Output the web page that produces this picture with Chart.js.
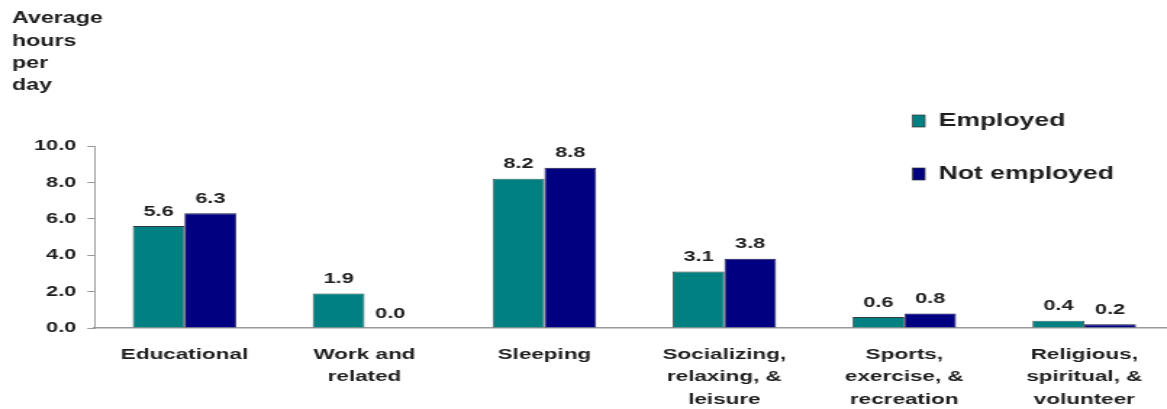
<!DOCTYPE html>
<html>
<head>
<meta charset="utf-8">
<script src="https://cdn.jsdelivr.net/npm/chart.js@4.4.1/dist/chart.umd.min.js"></script>
<style>
html,body{margin:0;padding:0;background:#fff;overflow:hidden;}
#c{display:block;width:1167px;height:409px;}
</style>
</head>
<body>
<canvas id="c" width="805" height="409" style="width:1167px;height:409px"></canvas>
<script>
const categories = [
  ["Educational"],
  ["Work and", "related"],
  ["Sleeping"],
  ["Socializing,", "relaxing, &", "leisure"],
  ["Sports,", "exercise, &", "recreation"],
  ["Religious,", "spiritual, &", "volunteer"]
];
const seriesNames = ["Employed", "Not employed"];
const employed = [5.6, 1.9, 8.2, 3.1, 0.6, 0.4];
const notEmployed = [6.3, 0.0, 8.8, 3.8, 0.8, 0.2];
const titleLines = ["Average", "hours", "per", "day"];
const yMin = 0, yMax = 10, yStep = 2;

const FONT = "'Liberation Sans', Arial, sans-serif";
const TEXT = "#1e1e1e";
const AXIS = "#9a9a9a";

const titlePlugin = {
  id: 'sideTitle',
  afterDraw(chart) {
    const ctx = chart.ctx;
    ctx.save();
    ctx.font = "bold 16px " + FONT;
    ctx.fillStyle = TEXT;
    ctx.textAlign = 'left';
    ctx.textBaseline = 'middle';
    titleLines.forEach((t, i) => ctx.fillText(t, 8.3, 19 + i * 22.2));
    ctx.restore();
  }
};

const legendPlugin = {
  id: 'boxLegend',
  afterDraw(chart) {
    const ctx = chart.ctx;
    ctx.save();
    ctx.font = "bold 18.3px " + FONT;
    ctx.textAlign = 'left';
    ctx.textBaseline = 'middle';
    const ys = [121, 174];
    chart.data.datasets.forEach((ds, i) => {
      ctx.fillStyle = ds.backgroundColor;
      ctx.fillRect(629.5, ys[i] - 6, 8.5, 12);
      ctx.strokeStyle = '#333';
      ctx.lineWidth = 0.7;
      ctx.strokeRect(629.5, ys[i] - 6, 8.5, 12);
      ctx.fillStyle = TEXT;
      ctx.fillText(ds.label, 647.5, ys[i]);
    });
    ctx.restore();
  }
};

const valuePlugin = {
  id: 'values',
  afterDatasetsDraw(chart) {
    const ctx = chart.ctx;
    ctx.save();
    ctx.font = "bold 15px " + FONT;
    ctx.fillStyle = TEXT;
    ctx.textAlign = 'center';
    ctx.textBaseline = 'alphabetic';
    chart.data.datasets.forEach((ds, di) => {
      const meta = chart.getDatasetMeta(di);
      meta.data.forEach((bar, i) => {
        ctx.fillText(ds.data[i].toFixed(1), bar.x, bar.y - 10.5);
      });
    });
    ctx.restore();
  }
};

// the category axis in the original runs a little past the right edge of the picture
const extendAxisPlugin = {
  id: 'extendAxis',
  afterLayout(chart) {
    const x = chart.scales.x;
    x.right += 5;
    x.width += 5;
    x.configure();
  }
};

new Chart(document.getElementById('c'), {
  type: 'bar',
  data: {
    labels: categories,
    datasets: [
      { label: seriesNames[0], data: employed, backgroundColor: '#008080', borderColor: '#2b3a3a', borderWidth: 0.8 },
      { label: seriesNames[1], data: notEmployed, backgroundColor: '#000080', borderColor: '#1a1a40', borderWidth: 0.8 }
    ]
  },
  options: {
    responsive: false,
    animation: false,
    devicePixelRatio: 1,
    layout: { padding: { top: 146, left: 0, right: 0, bottom: 0 } },
    plugins: {
      legend: { display: false },
      title: { display: false },
      tooltip: { enabled: false }
    },
    datasets: { bar: { categoryPercentage: 0.575, barPercentage: 1.0 } },
    scales: {
      x: {
        grid: { display: false, drawTicks: false },
        border: { display: true, color: AXIS, width: 1.5 },
        ticks: {
          color: TEXT,
          font: { family: FONT, size: 15.5, weight: 'bold', lineHeight: 1.47 },
          padding: 15,
          maxRotation: 0,
          autoSkip: false
        },
        afterFit(scale) { scale.height = 81; }
      },
      y: {
        min: yMin, max: yMax,
        grid: { drawOnChartArea: false, drawTicks: true, tickLength: 5, color: AXIS, lineWidth: 1 },
        border: { display: true, color: AXIS, width: 1 },
        ticks: {
          stepSize: yStep,
          color: TEXT,
          font: { family: FONT, size: 15, weight: 'bold' },
          padding: 7.5,
          callback: v => Number(v).toFixed(1)
        },
        afterFit(scale) { scale.width = 65.2; }
      }
    }
  },
  plugins: [extendAxisPlugin, titlePlugin, legendPlugin, valuePlugin]
});
</script>
</body>
</html>
